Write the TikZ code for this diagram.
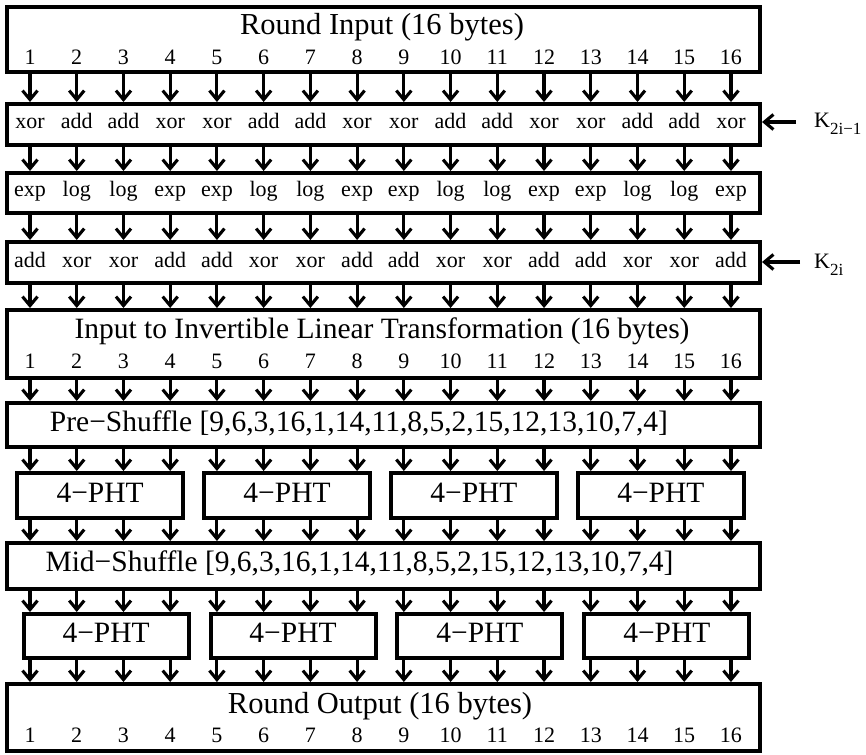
\documentclass[tikz,border=0pt]{standalone}
\usepackage{fontspec}
\setmainfont{Liberation Serif}
\usetikzlibrary{arrows.meta}
\newcommand{\titlefnt}{\fontsize{29.5}{32}\selectfont}
\newcommand{\bigtitlefnt}{\fontsize{30.5}{32}\selectfont}
\newcommand{\smallfnt}{\fontsize{22}{24}\selectfont}
\newcommand{\subfnt}{\fontsize{17}{18}\selectfont}
\begin{document}
\begin{tikzpicture}[x=1pt,y=-1pt,
  box/.style={draw, line width=4pt, rectangle, inner sep=0pt, outer sep=2pt},
  arr/.style={line width=3.1pt, -{Straight Barb[length=9pt,width=15pt]}},
  ttl/.style={anchor=base, inner sep=0pt, font=\titlefnt},
  lbl/.style={anchor=base, inner sep=0pt, font=\smallfnt}]
\fill[white] (0,0) rectangle (866,754);
\useasboundingbox (0,0) rectangle (866,754);
% column coordinates
\foreach \i in {1,...,16}{\coordinate (c\i) at ({30+(\i-1)*46.73},0);}
% main boxes
\node[box, minimum width=753pt, minimum height=65pt] (B1) at (383.5,39.5) {};
\node[box, minimum width=753pt, minimum height=41pt] (B2) at (383.5,124.5) {};
\node[box, minimum width=753pt, minimum height=40pt] (B3) at (383.5,193) {};
\node[box, minimum width=753pt, minimum height=41pt] (B4) at (383.5,262.5) {};
\node[box, minimum width=753pt, minimum height=68pt] (B5) at (383.5,344) {};
\node[box, minimum width=753pt, minimum height=44pt] (B6) at (383.5,425) {};
\node[box, minimum width=753pt, minimum height=46pt] (B8) at (383.5,566) {};
\node[box, minimum width=753pt, minimum height=67pt] (B10) at (383.5,717.5) {};
% PHT boxes
\foreach \k in {1,...,4}{
  \node[box, minimum width=166pt, minimum height=45pt] (P1-\k) at ({30+(4*\k-2.5)*46.73},495.5) {};
  \node[ttl] (P1t-\k) at ([yshift=-6.5pt]P1-\k.center) {4−PHT};
  \node[box, minimum width=165pt, minimum height=44pt] (P2-\k) at ({36+(4*\k-2.5)*46.73},636) {};
  \node[ttl] (P2t-\k) at ([yshift=-6.5pt]P2-\k.center) {4−PHT};
}
% titles
\node[ttl, font=\bigtitlefnt] (T1) at (382,35) {Round Input (16 bytes)};
\node[ttl] (T5) at (382,338) {Input to Invertible Linear Transformation (16 bytes)};
\node[ttl] (T6) at (359,431) {Pre−Shuffle [9,6,3,16,1,14,11,8,5,2,15,12,13,10,7,4]};
\node[ttl] (T8) at (359.5,571) {Mid−Shuffle [9,6,3,16,1,14,11,8,5,2,15,12,13,10,7,4]};
\node[ttl, font=\bigtitlefnt] (T10) at (380,713) {Round Output (16 bytes)};
% numbers
\foreach \i in {1,...,16}{
  \node[lbl] (N1-\i) at ({30+(\i-1)*46.73},65) {\i};
  \node[lbl] (N5-\i) at ({30+(\i-1)*46.73},368) {\i};
  \node[lbl] (N10-\i) at ({30+(\i-1)*46.73},742) {\i};
}
% operation rows
\foreach \w [count=\i] in {xor,add,add,xor,xor,add,add,xor,xor,add,add,xor,xor,add,add,xor}{
  \node[lbl] (O2-\i) at ({30+(\i-1)*46.73},129) {\w};}
\foreach \w [count=\i] in {exp,log,log,exp,exp,log,log,exp,exp,log,log,exp,exp,log,log,exp}{
  \node[lbl] (O3-\i) at ({30+(\i-1)*46.73},196.5) {\w};}
\foreach \w [count=\i] in {add,xor,xor,add,add,xor,xor,add,add,xor,xor,add,add,xor,xor,add}{
  \node[lbl] (O4-\i) at ({30+(\i-1)*46.73},267) {\w};}
% arrows between boxes
\foreach \i in {1,...,16}{
  \pgfmathtruncatemacro\g{(\i-1)/4+1}
  \draw[arr] (B1.south -| c\i) -- (B2.north -| c\i);
  \draw[arr] (B2.south -| c\i) -- (B3.north -| c\i);
  \draw[arr] (B3.south -| c\i) -- (B4.north -| c\i);
  \draw[arr] (B4.south -| c\i) -- (B5.north -| c\i);
  \draw[arr] (B5.south -| c\i) -- (B6.north -| c\i);
  \draw[arr] (B6.south -| c\i) -- (P1-\g.north -| c\i);
  \draw[arr] (P1-\g.south -| c\i) -- (B8.north -| c\i);
  \draw[arr] (B8.south -| c\i) -- (P2-\g.north -| c\i);
  \draw[arr] (P2-\g.south -| c\i) -- (B10.north -| c\i);
}
% round keys
\node[anchor=base west, inner sep=0pt, font=\smallfnt] (K1) at (814,128) {K\raisebox{-7pt}{\subfnt 2i−1}};
\node[anchor=base west, inner sep=0pt, font=\smallfnt] (K2) at (814,268) {K\raisebox{-7pt}{\subfnt 2i}};
\coordinate (k1) at (796,122);
\coordinate (k2) at (800,262);
\draw[arr] (k1) -- (k1 -| B2.east);
\draw[arr] (k2) -- (k2 -| B4.east);
\end{tikzpicture}
\end{document}
